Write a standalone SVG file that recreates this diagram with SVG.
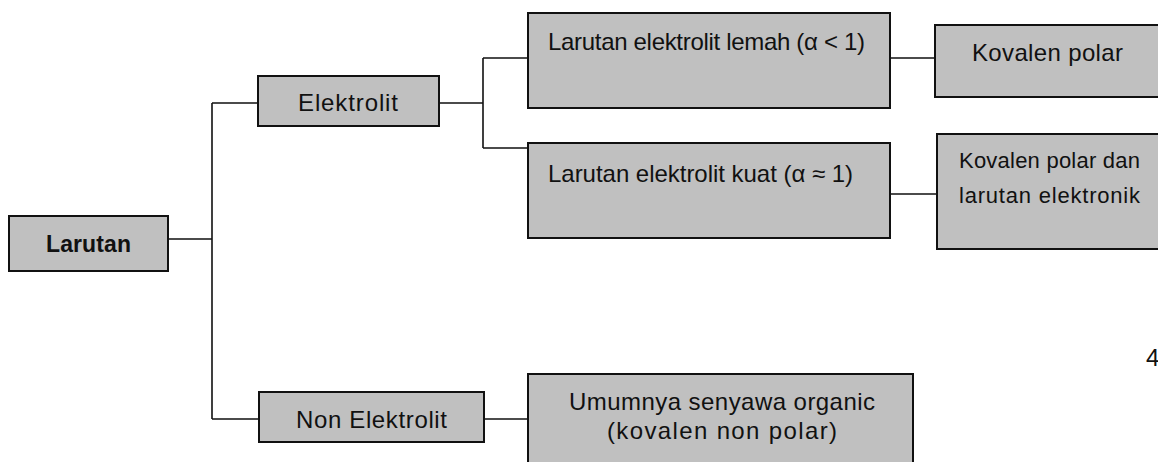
<svg xmlns="http://www.w3.org/2000/svg" width="1158" height="462" viewBox="0 0 1158 462">
<style>
.box{fill:#c0c0c0;stroke:#111;stroke-width:2}
.ln{fill:none;stroke:#111;stroke-width:1.6}
text{font-family:"Liberation Sans",Arial,sans-serif;font-size:24px;fill:#111}
.b{font-weight:bold;font-size:23px}
.s{font-size:22px}
</style>
<rect width="1158" height="462" fill="#fff"/>
<g id="connectors">
<path class="ln" d="M168,239 H212 M212,103 V419 M212,103 H258 M212,419 H259"/>
<path class="ln" d="M439,103 H483 M483,58 V148 M483,58 H528 M483,148 H528"/>
<path class="ln" d="M484,419 H528"/>
<path class="ln" d="M890,58 H935 M890,194 H937"/>
</g>
<g id="larutan"><rect class="box" x="9" y="216" width="159" height="55"/><text class="b" x="46" y="252" textLength="85">Larutan</text></g>
<g id="elektrolit"><rect class="box" x="258" y="76" width="181" height="50"/><text x="298" y="111" textLength="100">Elektrolit</text></g>
<g id="nonelektrolit"><rect class="box" x="259" y="392" width="225" height="50"/><text x="296" y="428" textLength="151">Non Elektrolit</text></g>
<g id="lemah"><rect class="box" x="528" y="13" width="362" height="95"/><text x="548" y="50" textLength="317">Larutan elektrolit lemah (α &lt; 1)</text></g>
<g id="kuat"><rect class="box" x="528" y="143" width="362" height="95"/><text x="548" y="182" textLength="305">Larutan elektrolit kuat (α ≈ 1)</text></g>
<g id="kovalenpolar"><rect class="box" x="935" y="25" width="240" height="72"/><text x="972" y="61" font-size="25" textLength="151">Kovalen polar</text></g>
<g id="kovalenpolardan"><rect class="box" x="937" y="134" width="240" height="115"/><text class="s" x="959" y="168" textLength="181">Kovalen polar dan</text><text class="s" x="959" y="203" textLength="181">larutan elektronik</text></g>
<g id="umumnya"><rect class="box" x="528" y="374" width="385" height="110"/><text x="569" y="410" textLength="306">Umumnya senyawa organic</text><text x="607" y="439" textLength="230">(kovalen non polar)</text></g>
<text x="1146" y="366" font-size="21">4</text>
</svg>
